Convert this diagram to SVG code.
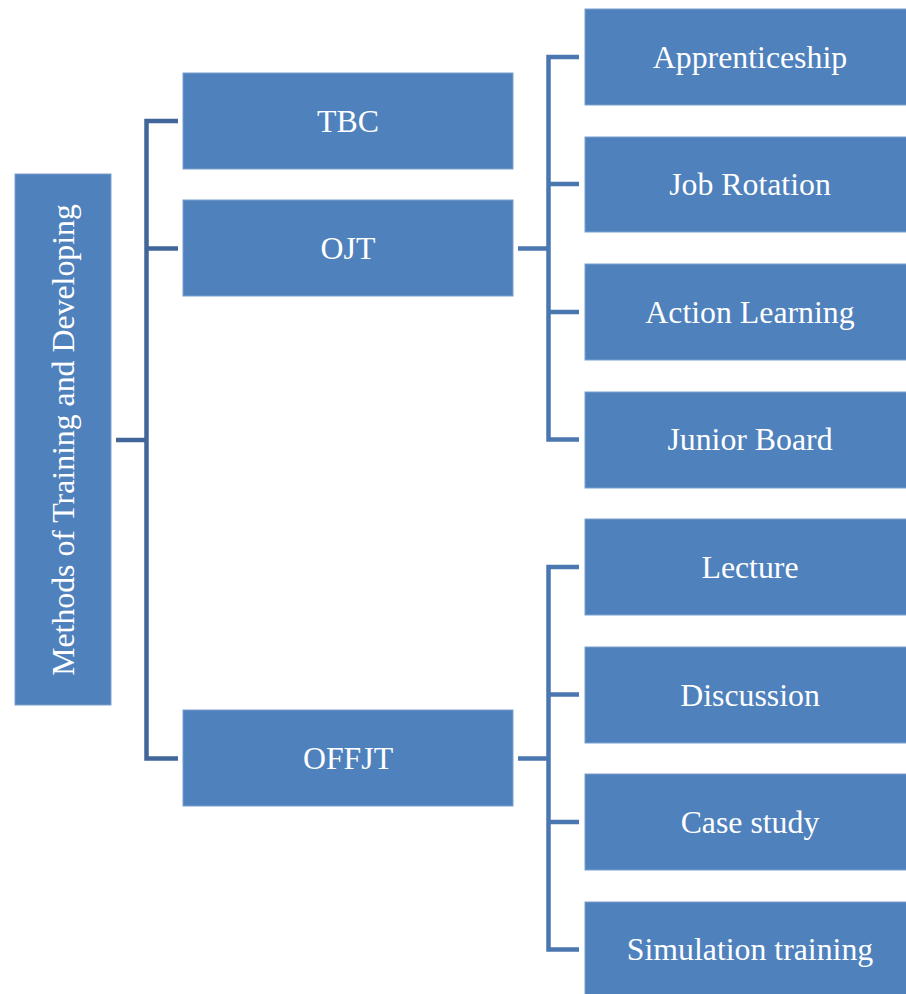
<svg xmlns="http://www.w3.org/2000/svg" width="906" height="994" viewBox="0 0 906 994">
<style>
.box{fill:#4F81BD;stroke:#7BA0CE;stroke-width:1}
.t{font-family:"Liberation Serif","Times New Roman",serif;font-size:31.8px;fill:#FFFFFF;text-anchor:middle}
.cl{fill:none;stroke:#41679A;stroke-width:4.5}
.cr{fill:none;stroke:#4A77B0;stroke-width:4.5}
</style>
<rect width="906" height="994" fill="#FFFFFF"/>
<g id="connectors">
<path class="cl" d="M116 440H146.5M178 121H146.5V758.5H178M146.5 248.5H178"/>
<path class="cr" d="M518 248.5H548.5M579 57H548.5V439.5H579M548.5 184H579M548.5 312H579"/>
<path class="cr" d="M518 758.5H548.5M579 567H548.5V949.5H579M548.5 694.5H579M548.5 822H579"/>
</g>
<g id="root"><rect class="box" x="15" y="174" width="96" height="531"/><text class="t" transform="translate(74 440) rotate(-90)">Methods of Training and Developing</text></g>
<g id="tbc"><rect class="box" x="183" y="73" width="330" height="96"/><text class="t" x="348" y="132">TBC</text></g>
<g id="ojt"><rect class="box" x="183" y="200" width="330" height="96"/><text class="t" x="348" y="259">OJT</text></g>
<g id="offjt"><rect class="box" x="183" y="710" width="330" height="96"/><text class="t" x="348" y="769">OFFJT</text></g>
<g id="apprenticeship"><rect class="box" x="585" y="9" width="330" height="96"/><text class="t" x="750" y="68">Apprenticeship</text></g>
<g id="job-rotation"><rect class="box" x="585" y="137" width="330" height="95"/><text class="t" x="750" y="195">Job Rotation</text></g>
<g id="action-learning"><rect class="box" x="585" y="264" width="330" height="96"/><text class="t" x="750" y="323">Action Learning</text></g>
<g id="junior-board"><rect class="box" x="585" y="392" width="330" height="96"/><text class="t" x="750" y="450">Junior Board</text></g>
<g id="lecture"><rect class="box" x="585" y="519" width="330" height="96"/><text class="t" x="750" y="578">Lecture</text></g>
<g id="discussion"><rect class="box" x="585" y="647" width="330" height="96"/><text class="t" x="750" y="706">Discussion</text></g>
<g id="case-study"><rect class="box" x="585" y="774" width="330" height="96"/><text class="t" x="750" y="833">Case study</text></g>
<g id="simulation-training"><rect class="box" x="585" y="902" width="330" height="96"/><text class="t" x="750" y="960">Simulation training</text></g>
</svg>
